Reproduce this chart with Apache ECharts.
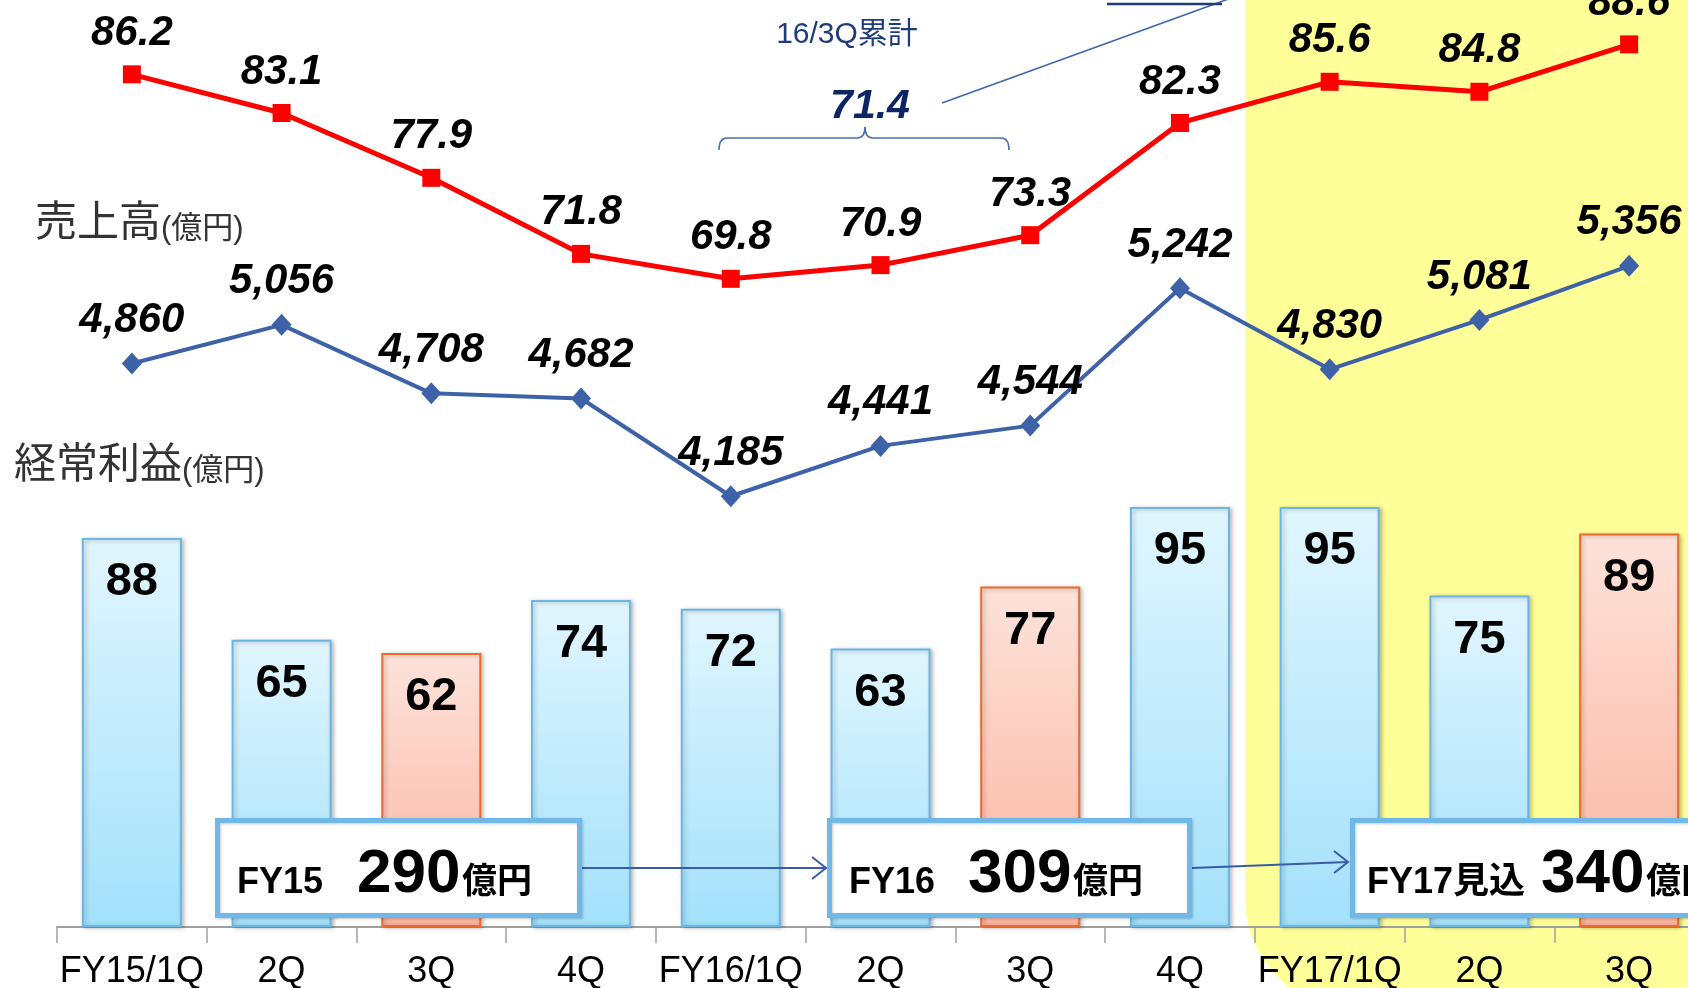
<!DOCTYPE html>
<html>
<head>
<meta charset="utf-8">
<script src="https://cdn.jsdelivr.net/npm/echarts/dist/echarts.min.js"></script>
<style>
html,body{margin:0;padding:0;background:#fff;}
#main{width:1688px;height:988px;}
</style>
</head>
<body>
<div id="main"></div>
<script>
// ---- data ----
const categories = ['FY15/1Q','2Q','3Q','4Q','FY16/1Q','2Q','3Q','4Q','FY17/1Q','2Q','3Q'];
const salesValues = [4860,5056,4708,4682,4185,4441,4544,5242,4830,5081,5356];
const ratioValues = [86.2,83.1,77.9,71.8,69.8,70.9,73.3,82.3,85.6,84.8,88.6];
const profitValues = [88,65,62,74,72,63,77,95,95,75,89];
const thirdQuarterFlags = [false,false,true,false,false,false,true,false,false,false,true];
const yearTotals = [
  {fy:'FY15', value:'290', unit:'億円'},
  {fy:'FY16', value:'309', unit:'億円'},
  {fy:'FY17見込', value:'340', unit:'億円'}
];
const cumulativeLabel = '16/3Q累計';
const cumulativeValue = '71.4';

const FONT = '"Liberation Sans", Arial, "Noto Sans CJK JP", sans-serif';

const blueBar = {
  color: {type:'linear',x:0,y:0,x2:0,y2:1,colorStops:[{offset:0,color:'#e1f6fe'},{offset:1,color:'#a3e1fb'}]},
  borderColor:'#6cb6e4', borderWidth:2,
  shadowColor:'rgba(0,0,0,0.25)', shadowBlur:4, shadowOffsetX:2, shadowOffsetY:1
};
const orangeBar = {
  color: {type:'linear',x:0,y:0,x2:0,y2:1,colorStops:[{offset:0,color:'#fde2da'},{offset:1,color:'#fbb39e'}]},
  borderColor:'#ec6a2a', borderWidth:2,
  shadowColor:'rgba(0,0,0,0.25)', shadowBlur:4, shadowOffsetX:2, shadowOffsetY:1
};

const chart = echarts.init(document.getElementById('main'), null, {renderer:'canvas'});

const boxes = [
  {x:215, w:367, fyX:237, valX:357, unitX:462},
  {x:827, w:365, fyX:849, valX:968, unitX:1073},
  {x:1350, w:420, fyX:1367, valX:1541, unitX:1646}
];
const braceStyle = {stroke:'#4a6fb0', lineWidth:1.6, fill:null};
const graphics = [
  // yellow highlight
  {type:'rect', z:-5, silent:true, shape:{x:1245,y:-20,width:520,height:1030,r:[0,0,0,112]}, style:{fill:'#ffff99'}},
  // left titles
  {type:'text', z:50, x:35, y:221, style:{
    text:'{a|売上高}{b|(億円)}', verticalAlign:'middle',
    rich:{a:{fontSize:42, fontFamily:FONT, fill:'#333', verticalAlign:'bottom', lineHeight:48},
          b:{fontSize:31, fontFamily:FONT, fill:'#333', verticalAlign:'bottom', lineHeight:42}}
  }},
  {type:'text', z:50, x:14, y:463, style:{
    text:'{a|経常利益}{b|(億円)}', verticalAlign:'middle',
    rich:{a:{fontSize:42, fontFamily:FONT, fill:'#333', verticalAlign:'bottom', lineHeight:48},
          b:{fontSize:31, fontFamily:FONT, fill:'#333', verticalAlign:'bottom', lineHeight:42}}
  }},
  // cumulative annotation
  {type:'text', z:50, x:847, y:35, style:{text:cumulativeLabel, font:'30px '+FONT, fill:'#1f3c7a', align:'center', verticalAlign:'middle'}},
  {type:'text', z:50, x:870, y:107, style:{text:cumulativeValue, font:'italic bold 41px '+FONT, fill:'#0d2663', align:'center', verticalAlign:'middle'}},
  {type:'bezierCurve', z:50, shape:{x1:719,y1:150,cpx1:719,cpy1:138,x2:727,y2:138}, style:braceStyle},
  {type:'line', z:50, shape:{x1:727,y1:138,x2:857,y2:138}, style:braceStyle},
  {type:'bezierCurve', z:50, shape:{x1:857,y1:138,cpx1:865,cpy1:138,x2:865,y2:127}, style:braceStyle},
  {type:'bezierCurve', z:50, shape:{x1:865,y1:127,cpx1:865,cpy1:138,x2:873,y2:138}, style:braceStyle},
  {type:'line', z:50, shape:{x1:873,y1:138,x2:1001,y2:138}, style:braceStyle},
  {type:'bezierCurve', z:50, shape:{x1:1001,y1:138,cpx1:1009,cpy1:138,x2:1009,y2:150}, style:braceStyle},
  {type:'line', z:50, shape:{x1:942,y1:103,x2:1234,y2:-3}, style:{stroke:'#3f66ad', lineWidth:1.6}},
  {type:'line', z:50, shape:{x1:1107,y1:4,x2:1222,y2:4}, style:{stroke:'#1f3c7a', lineWidth:2.5}},
  // arrows
  {type:'line', z:60, shape:{x1:582,y1:868,x2:826,y2:868}, style:{stroke:'#3a5ca8', lineWidth:2}},
  {type:'polyline', z:60, shape:{points:[[812,857],[826,868],[812,879]]}, style:{fill:null, stroke:'#3a5ca8', lineWidth:2}},
  {type:'line', z:60, shape:{x1:1192,y1:868,x2:1348,y2:862}, style:{stroke:'#3a5ca8', lineWidth:2}},
  {type:'polyline', z:60, shape:{points:[[1334,851],[1348,862],[1334,873]]}, style:{fill:null, stroke:'#3a5ca8', lineWidth:2}}
];
boxes.forEach((b,i)=>{
  const t = yearTotals[i];
  graphics.push({type:'rect', z:70, shape:{x:b.x+2.5,y:820.5,width:b.w-5,height:95},
    style:{fill:'#fff', stroke:'#6fb8e8', lineWidth:5, shadowColor:'rgba(0,0,0,0.2)', shadowBlur:3, shadowOffsetX:1, shadowOffsetY:1}});
  graphics.push({type:'text', z:80, x:b.fyX, y:883, style:{text:t.fy, font:'bold 36px '+FONT, fill:'#000', verticalAlign:'middle'}});
  graphics.push({type:'text', z:80, x:b.valX, y:875, style:{text:t.value, font:'bold 62px '+FONT, fill:'#000', verticalAlign:'middle'}});
  graphics.push({type:'text', z:80, x:b.unitX, y:883, style:{text:t.unit, font:'bold 35px '+FONT, fill:'#000', verticalAlign:'middle'}});
});

const option = {
  backgroundColor:'#ffffff',
  animation:false,
  grid:{left:57, right:-16, top:0, bottom:61, containLabel:false, outerBoundsMode:'none'},
  xAxis:{
    type:'category', data:categories, boundaryGap:true,
    axisLine:{show:true, lineStyle:{color:'#a0a0a0', width:2}},
    axisTick:{show:true, length:16, lineStyle:{color:'#a0a0a0', width:1.5}},
    axisLabel:{color:'#000', fontSize:36, fontFamily:FONT, margin:27, interval:0, hideOverlap:false}
  },
  yAxis:[
    {type:'value', min:0, max:209.7, show:false, splitLine:{show:false}},
    {type:'value', min:17.82, max:92.16, show:false, splitLine:{show:false}},
    {type:'value', min:1996, max:6707, show:false, splitLine:{show:false}}
  ],
  series:[
    {
      type:'bar', yAxisIndex:0, barWidth:100, z:2,
      data: profitValues.map((v,i)=>({value:v, itemStyle: thirdQuarterFlags[i] ? orangeBar : blueBar})),
      label:{show:true, position:'insideTop', distance:21, color:'#000', fontSize:47, fontWeight:'bold', fontFamily:FONT}
    },
    {
      type:'line', yAxisIndex:1, z:5, data:ratioValues,
      symbol:'rect', symbolSize:18,
      lineStyle:{color:'#ff0000', width:5},
      itemStyle:{color:'#ff0000'},
      label:{show:true, position:'top', distance:11, color:'#000', fontSize:42, fontWeight:'bold', fontStyle:'italic', fontFamily:FONT,
        formatter:p=>p.value.toFixed(1)}
    },
    {
      type:'line', yAxisIndex:2, z:5, data:salesValues,
      symbol:'diamond', symbolSize:[20,22],
      lineStyle:{color:'#3d62a8', width:4},
      itemStyle:{color:'#3d62a8'},
      label:{show:true, position:'top', distance:11, color:'#000', fontSize:42, fontWeight:'bold', fontStyle:'italic', fontFamily:FONT,
        formatter:p=>p.value.toLocaleString('en-US')}
    }
  ],
  graphic: graphics
};
chart.setOption(option);
</script>
</body>
</html>
